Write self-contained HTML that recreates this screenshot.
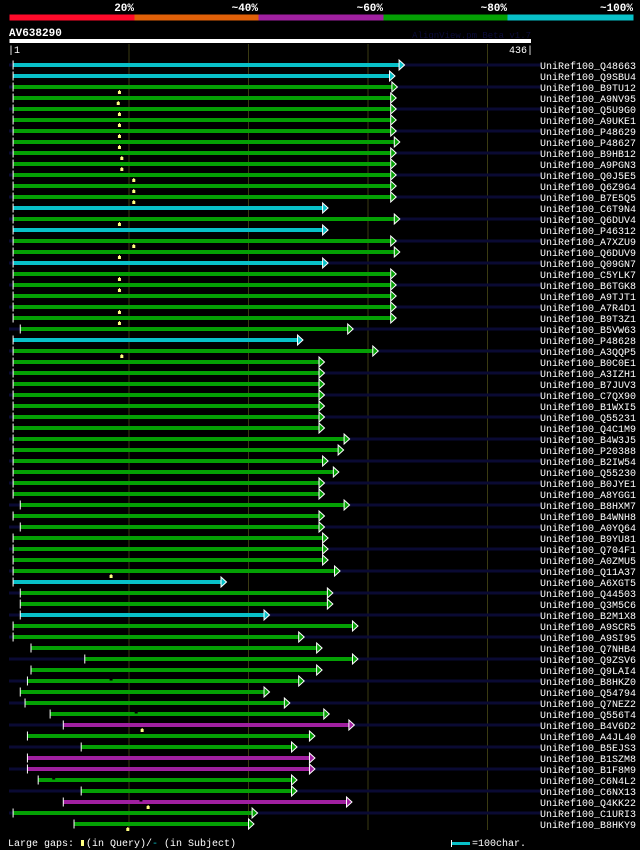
<!DOCTYPE html>
<html><head><meta charset="utf-8">
<style>
html,body{margin:0;padding:0;background:#000;}
svg{display:block;}
text{font-family:"Liberation Mono","DejaVu Sans Mono",monospace;}
</style></head>
<body>
<svg id="chart" width="640" height="850" viewBox="0 0 640 850" xmlns="http://www.w3.org/2000/svg">
  <rect x="0" y="0" width="640" height="850" fill="#000"/>
  <g>
    <rect x="9.5" y="14.5" width="125" height="6" fill="#ff0a2a"/>
    <rect x="134.5" y="14.5" width="124" height="6" fill="#e06008"/>
    <rect x="258.5" y="14.5" width="125" height="6" fill="#a020a0"/>
    <rect x="383.5" y="14.5" width="124" height="6" fill="#04a004"/>
    <rect x="507.5" y="14.5" width="126" height="6" fill="#08c0c8"/>
    <text x="134" y="11" fill="#fff" font-size="11" font-weight="bold" text-anchor="end">20%</text>
    <text x="258" y="11" fill="#fff" font-size="11" font-weight="bold" text-anchor="end">~40%</text>
    <text x="383" y="11" fill="#fff" font-size="11" font-weight="bold" text-anchor="end">~60%</text>
    <text x="507" y="11" fill="#fff" font-size="11" font-weight="bold" text-anchor="end">~80%</text>
    <text x="633" y="11" fill="#fff" font-size="11" font-weight="bold" text-anchor="end">~100%</text>
  </g>
  <text x="9" y="36" fill="#fff" font-size="11" font-weight="bold">AV638290</text>
  <text x="531" y="38" fill="#0c0c38" font-size="9" text-anchor="end">AlignView.pm Beta v1.7</text>
  <rect x="9.5" y="39" width="521.5" height="4" fill="#fff"/>
  <text x="8" y="53" fill="#fff" font-size="10">|1</text>
  <text x="533" y="53" fill="#fff" font-size="10" text-anchor="end">436|</text>
  <g id="grid"></g>
  <g id="rows"></g>
  <g>
    <text x="8" y="846" fill="#fff" font-size="10">Large gaps:</text>
    <rect x="81" y="840" width="3" height="6" fill="#ffff80"/>
    <text x="86" y="846" fill="#fff" font-size="10">(in Query)/<tspan fill="#08c0c8">-</tspan> (in Subject)</text>
    <rect x="451" y="840" width="1" height="7" fill="#fff"/>
    <rect x="452" y="842" width="18" height="3" fill="#08c0c8"/>
    <text x="472" y="846" fill="#fff" font-size="10">=100char.</text>
  </g>
</svg>
<script>
const names=["Q48663","Q9SBU4","B9TU12","A9NV95","Q5U9G0","A9UKE1","P48629","P48627","B9HB12","A9PGN3","Q0J5E5","Q6Z9G4","B7E5Q5","C6T9N4","Q6DUV4","P46312","A7XZU9","Q6DUV9","Q09GN7","C5YLK7","B6TGK8","A9TJT1","A7R4D1","B9T3Z1","B5VW63","P48628","A3QQP5","B0C0E1","A3IZH1","B7JUV3","C7QX90","B1WXI5","Q55231","Q4C1M9","B4W3J5","P20388","B2IW54","Q55230","B0JYE1","A8YGG1","B8HXM7","B4WNH8","A0YQ64","B9YU81","Q704F1","A0ZMU5","Q11A37","A6XGT5","Q44503","Q3M5C6","B2M1X8","A9SCR5","A9SI95","Q7NHB4","Q9ZSV6","Q9LAI4","B8HKZ0","Q54794","Q7NEZ2","Q556T4","B4V6D2","A4JL40","B5EJS3","B1SZM8","B1F8M9","C6N4L2","C6NX13","Q4KK22","C1URI3","B8HKY9"];
const starts=[3,3,3,3,3,3,3,3,3,3,3,3,3,3,3,3,3,3,3,3,3,3,3,3,9,3,3,3,3,3,3,3,3,3,3,3,3,3,3,3,9,3,9,3,3,3,3,3,9,9,9,3,3,18,63,18,15,9,13,34,45,15,60,15,15,24,60,45,3,54];
const ends=[326,318,320,319,319,319,319,322,319,319,319,319,319,262,322,262,319,322,262,319,319,319,319,319,283,241,304,259,259,259,259,259,259,259,280,275,262,271,259,259,280,259,259,262,262,262,272,177,266,266,213,287,242,257,287,257,242,213,230,263,284,251,236,251,251,236,236,282,203,200];
const identity=[100,100,80,80,80,80,80,80,80,80,80,80,80,100,80,100,80,80,100,80,80,80,80,80,80,100,80,80,80,80,80,80,80,80,80,80,80,80,80,80,80,80,80,80,80,80,80,100,80,80,100,80,80,80,80,80,80,80,80,80,60,80,80,60,60,80,80,60,80,80];
const queryGapRows=[3,4,5,6,7,8,9,10,11,12,13,15,17,18,20,21,23,24,27,47,61,68,70];
const queryGapPos=[92,91,92,92,92,92,94,94,104,104,104,92,104,92,92,92,92,92,94,85,111,116,99];
const subjGapRows=[57,60,66,68];
const subjGapPos=[85,106,37,110];
const gridTicks=[100,200,300,400];

const NS="http://www.w3.org/2000/svg";
const xs=r=>9.5+r*1.195;
const ys=i=>65+i*11;
const colorOf=v=>v>=100?"#08c0c8":v>=80?"#04a004":v>=60?"#a020a0":v>=40?"#e06008":"#ff0a2a";
function mk(tag,attrs,parent){const e=document.createElementNS(NS,tag);for(const k in attrs)e.setAttribute(k,attrs[k]);parent.appendChild(e);return e;}
const grid=document.getElementById('grid');
const rows=document.getElementById('rows');
gridTicks.forEach(t=>{
  const l=mk('line',{x1:xs(t),x2:xs(t),y1:44,y2:830,stroke:'#3a3a12','stroke-width':1},grid);
  
  
});
names.forEach((n,i)=>{
  const y=ys(i);
  const g=mk('g',{},rows);
  
  
  if(i%2===0){
    const s=mk('rect',{x:9,y:y-1.5,width:532,height:3,fill:'#0a0a33'},g);
    
    
  }
  const c=colorOf(identity[i]);
  const x0=xs(starts[i]), x1=xs(ends[i]);
  const b=mk('rect',{x:x0,y:y-2,width:x1-x0,height:4,fill:c},g);
  
  
  const t=mk('rect',{x:x0-0.5,y:y-4.5,width:1,height:9,fill:'#fff'},g);
  
  
  const a=mk('path',{d:`M${x1},${y-5} L${x1+5.5},${y} L${x1},${y+5} Z`,fill:c,stroke:'#fff','stroke-width':1},g);
  
  
  const lab=mk('text',{x:540,y:y+4,fill:'#fff','font-size':10},g);
  lab.textContent='UniRef100_'+n;
  
  
});
queryGapRows.forEach((r,k)=>{
  const x=xs(queryGapPos[k]), y=ys(r-1);
  const m=mk('path',{d:`M${x-0.5},${y+3} h1 v1 h1 v3 h-3 v-3 h1 Z`,fill:'#ffff80'},rows);
  
  
});
subjGapRows.forEach((r,k)=>{
  const x=xs(subjGapPos[k]), y=ys(r-1);
  const m=mk('rect',{x:x-1.5,y:y-2,width:3,height:1.5,fill:'#000'},rows);
  
  
});
</script>
</body></html>
